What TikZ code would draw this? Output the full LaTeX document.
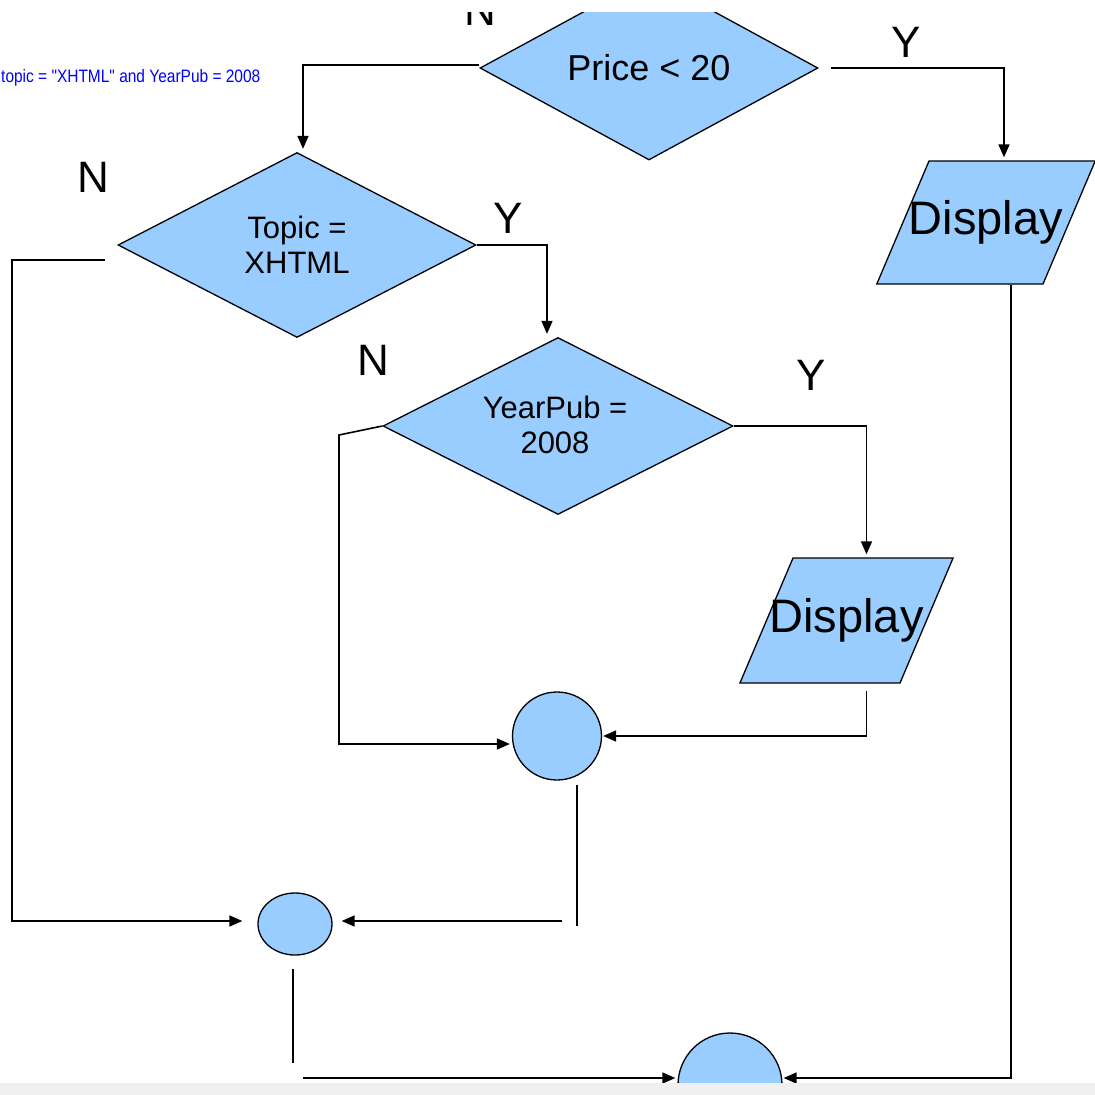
\documentclass[tikz,border=0pt]{standalone}
\usepackage{fontspec}
\setmainfont{Liberation Sans}
\newfontfamily\narrowsans[FakeStretch=0.86]{Liberation Sans}
\usetikzlibrary{shapes.geometric,arrows.meta}
\definecolor{boxblue}{HTML}{99CCFF}
\definecolor{stripgray}{HTML}{F0F0F0}

\begin{document}
\begin{tikzpicture}[x=1pt,y=-1pt,
    decision/.style={diamond, draw, fill=boxblue, line width=1.3pt, inner sep=0pt},
    io/.style={trapezium, trapezium left angle=67, trapezium right angle=113,
      draw, fill=boxblue, line width=1.3pt, text height=35pt, text depth=10pt},
    iotext/.style={font=\fontsize{47}{47}\selectfont, inner sep=0pt},
    joint/.style={ellipse, draw, fill=boxblue, line width=1.3pt, inner sep=0pt},
    flow/.style={line width=1.6pt, -{Triangle[length=13pt,width=11pt]}},
    plain/.style={line width=1.6pt},
    yn/.style={font=\fontsize{44}{44}\selectfont, inner sep=0pt}]
    \useasboundingbox (0,0) rectangle (1095,1095);
    % font sizes of the texts in the boxes
    \def\testfont{\fontsize{31}{35}\selectfont}

    \begin{scope}
    \clip (0,12) rectangle (1095,1083);

    % Condition written beside the chart
    \node[anchor=west, inner sep=0pt, text=blue, font=\narrowsans\fontsize{18}{18}\selectfont]
      (cond) at (1,78) {topic = "XHTML" and YearPub = 2008};

    % Decision 1 - Price
    \node[decision, minimum width=338pt, minimum height=184pt] (price) at (649,68) {};
    \node[font=\fontsize{36}{36}\selectfont] (priceT) at (price.center) {Price < 20};
    \node[yn] (priceN) at (480,10) {N};
    \node[yn] (priceY) at (906,42) {Y};

    % Output 1 - Display
    \node[io, inner xsep=57pt, inner ysep=39pt] (disp1) at (986,222.5) {};
    \node[iotext] (disp1T) at (disp1.center) {Display};

    % Decision 2 - Topic
    \node[decision, minimum width=358pt, minimum height=185pt] (topic) at (297,245) {};
    \node[font=\testfont, align=center] (topicT) at (topic.center) {Topic =\\XHTML};
    \node[yn] (topicN) at (93,177) {N};
    \node[yn] (topicY) at (508,218) {Y};

    % Decision 3 - YearPub
    \node[decision, minimum width=350pt, minimum height=177pt] (year) at (558,426) {};
    \node[font=\testfont, align=center] (yearT) at (555,425) {YearPub =\\2008};
    \node[yn] (yearN) at (373,360) {N};
    \node[yn] (yearY) at (811,375) {Y};

    % Output 2 - Display
    \node[io, inner xsep=53.5pt, inner ysep=40pt] (disp2) at (846.5,620.5) {};
    \node[iotext] (disp2T) at (disp2.center) {Display};

    % Connectors (joints)
    \node[joint, minimum width=89pt, minimum height=88pt] (joinY) at (557,736) {};
    \node[joint, minimum width=74pt, minimum height=62pt] (joinT) at (295,924) {};
    \node[joint, minimum width=104pt, minimum height=104pt] (joinP) at (730,1085) {};

    % Flow lines
    \coordinate (topicOff) at (105,260);
    \coordinate (yearBend) at (339,435);
    \coordinate (joinYEnd) at (562,921);
    \coordinate (joinTEnd) at (303,1078);

    \draw[flow, shorten >=3pt] ([yshift=3pt]price.west) -| ([xshift=6pt]topic.north);
    \draw[flow, shorten <=12pt, shorten >=3pt] (price.east) -| ([xshift=18pt]disp1.north);
    \draw[flow, shorten >=3pt] (topic.east) -| ([xshift=-11pt]year.north);
    \draw[flow, shorten >=3pt] (year.east) -| ([xshift=20pt]disp2.north);
    \draw[flow, shorten >=2pt] (year.west) -- (yearBend) |- ([yshift=-8pt]joinY.west);
    \draw[flow, shorten >=1pt] ([xshift=20pt,yshift=-7pt]disp2.south) |- (joinY.east);
    \draw[plain] ([xshift=20pt,yshift=-4pt]joinY.south) -- ++(0,141);
    \draw[flow, shorten >=9pt] (joinYEnd) -- ([yshift=3pt]joinT.east);
    \draw[flow, shorten >=15pt] (topicOff) -- ++(-93,0) |- ([yshift=3pt]joinT.west);
    \draw[plain] ([xshift=-2pt,yshift=-13pt]joinT.south) -- ++(0,94);
    \draw[flow, shorten >=2pt] (joinTEnd) -- ([yshift=7pt]joinP.west);
    \draw[flow, shorten >=1pt] ([xshift=25pt]disp1.south) |- ([yshift=7pt]joinP.east);
    \end{scope}

    % grey strip at the bottom
    \fill[stripgray] (0,1083) rectangle (1095,1095);
\end{tikzpicture}
\end{document}
